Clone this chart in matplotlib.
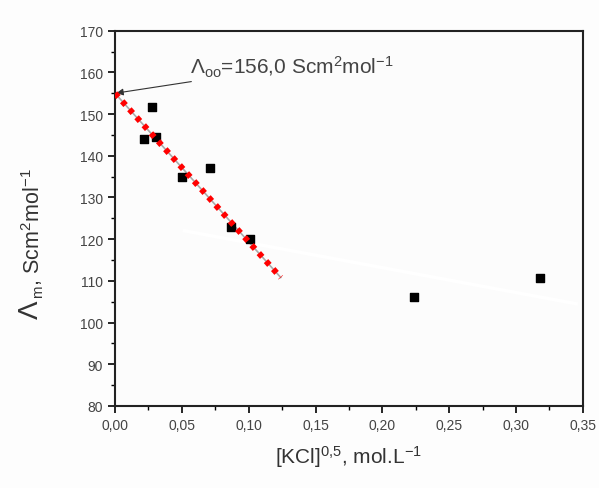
import matplotlib.pyplot as plt
from matplotlib.ticker import MultipleLocator, FuncFormatter

plt.rcParams['font.family'] = ['Liberation Sans', 'DejaVu Sans']
plt.rcParams['mathtext.fontset'] = 'custom'
plt.rcParams['mathtext.rm'] = 'Liberation Sans'
plt.rcParams['mathtext.it'] = 'Liberation Sans:italic'

# measured points
kcl_sqrt = [0.022, 0.028, 0.031, 0.050, 0.071, 0.087, 0.101, 0.224, 0.318]
molar_cond = [144.0, 151.7, 144.4, 135.0, 137.0, 123.0, 120.1, 106.0, 110.7]

# linear extrapolation (dilute region)
fit_x = [0.0, 0.124]
fit_y = [155.0, 110.8]

# faint white trace across the plot
trace_x = [0.052, 0.345]
trace_y = [122.0, 104.5]

fig = plt.figure(figsize=(5.99, 4.89), dpi=100)
fig.patch.set_facecolor('#fdfdfd')
ax = fig.add_axes([0.192, 0.168, 0.781, 0.767])
ax.set_facecolor('#fcfcfc')

ax.plot(trace_x, trace_y, color='white', lw=2.5, zorder=1)
ax.plot(fit_x, fit_y, color='#aaaaaa', lw=1.2, zorder=2)
ax.scatter(kcl_sqrt, molar_cond, marker='s', s=40, color='black', zorder=3)
ax.plot(fit_x, fit_y, color='#ff0000', lw=4.3, linestyle=(0, (0.85, 0.95)),
        dash_capstyle='butt', zorder=4)

ax.annotate(r'$\Lambda_{\rm oo}$=156,0 Scm$^{2}$mol$^{-1}$',
            xy=(0.0, 155.0), xytext=(0.056, 161.5),
            fontsize=15, color='#444444', va='center',
            arrowprops=dict(arrowstyle='-|>', color='#333333', lw=0.8,
                            mutation_scale=10, shrinkA=0, shrinkB=1))

ax.set_xlim(0, 0.35)
ax.set_ylim(80, 170)
ax.xaxis.set_major_locator(MultipleLocator(0.05))
ax.xaxis.set_minor_locator(MultipleLocator(0.025))
ax.yaxis.set_major_locator(MultipleLocator(10))
ax.yaxis.set_minor_locator(MultipleLocator(5))
ax.xaxis.set_major_formatter(FuncFormatter(lambda v, p: f'{v:.2f}'.replace('.', ',')))
ax.tick_params(which='major', direction='out', length=5, width=1.2,
               labelsize=10, labelcolor='#444444')
ax.tick_params(which='minor', direction='out', length=3, width=1)
ax.tick_params(top=False, right=False, which='both')
for s in ax.spines.values():
    s.set_linewidth(1.5)
    s.set_color('#222222')

ax.set_xlabel(r'[KCl]$^{0{,}5}$, mol.L$^{-1}$', fontsize=15, color='#333333', labelpad=8)

# y label: large Lambda followed by smaller text
fig.text(38 / 599, 1 - 320 / 489, r'$\Lambda$', rotation=90, rotation_mode='anchor',
         ha='left', va='baseline', fontsize=20, color='#333333')
fig.text(40 / 599, 1 - 299 / 489, r'$_{\rm m}$, Scm$^{2}$mol$^{-1}$', rotation=90,
         rotation_mode='anchor', ha='left', va='baseline', fontsize=15.5, color='#333333')

fig.savefig('out.png', dpi=100)
